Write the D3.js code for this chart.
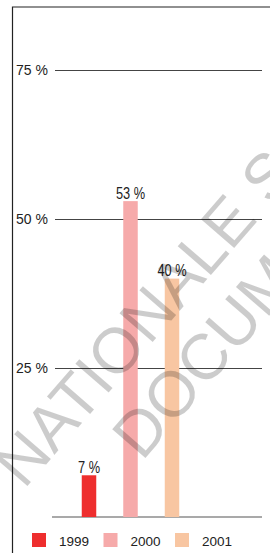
<!DOCTYPE html>
<html>
<head>
<meta charset="utf-8">
<script src="https://cdn.jsdelivr.net/npm/d3@7"></script>
<style>
  body { margin: 0; background: #fff; }
  svg { display: block; font-family: "Liberation Sans", Arial, sans-serif; }
</style>
</head>
<body>
<div id="chart"></div>
<script>
// data
const years = ["1999", "2000", "2001"];
const shares = [7, 53, 40];           // % per year
const yTicks = [25, 50, 75];
const colors = ["#ee2e2e", "#f6aaaa", "#f8c6a2"];
const watermark = ["NATIONALE S", "DOCUMENT"];

const width = 270, height = 553;

const svg = d3.select("#chart").append("svg")
  .attr("width", width)
  .attr("height", height);

// scales
const y = d3.scaleLinear().domain([0, 75]).range([517, 70]);
const x = d3.scalePoint().domain(years).range([89, 172]);
const barW = 14.5;

// frame (top + left)
svg.append("path")
  .attr("d", "M12.5,553 V7 H270")
  .attr("fill", "none")
  .attr("stroke", "#222")
  .attr("stroke-width", 1.2);

// gridlines
const grid = svg.append("g")
  .attr("transform", "translate(0,0)")
  .call(d3.axisLeft(y).tickValues(yTicks).tickSize(-207).tickFormat(d => d + " %"))
  .attr("transform", "translate(55,0)");
grid.select(".domain").remove();
grid.selectAll(".tick line").attr("stroke", "#444").attr("stroke-width", 1);
grid.selectAll(".tick text")
  .attr("x", -7)
  .attr("font-size", 14)
  .attr("font-family", "Liberation Sans, Arial, sans-serif")
  .attr("fill", "#222");

// baseline
svg.append("line")
  .attr("x1", 52).attr("x2", 262)
  .attr("y1", y(0)).attr("y2", y(0))
  .attr("stroke", "#555")
  .attr("stroke-width", 1.2);

// bars
const data = years.map((d, i) => ({ year: d, value: shares[i], color: colors[i] }));

svg.selectAll("rect.bar")
  .data(data)
  .join("rect")
  .attr("class", "bar")
  .attr("x", d => x(d.year) - barW / 2)
  .attr("y", d => y(d.value))
  .attr("width", barW)
  .attr("height", d => y(0) - y(d.value))
  .attr("fill", d => d.color);

// value labels (narrow)
svg.selectAll("text.val")
  .data(data)
  .join("text")
  .attr("class", "val")
  .attr("x", d => x(d.year))
  .attr("y", d => y(d.value) - 2.5)
  .attr("text-anchor", "middle")
  .attr("font-size", 16)
  .attr("fill", "#222")
  .text(d => d.value + " %")
  .each(function() {
    const w = this.getComputedTextLength();
    d3.select(this).attr("textLength", w * 0.8).attr("lengthAdjust", "spacingAndGlyphs");
  });

// legend
const legX = d3.scalePoint().domain(years).range([32, 175]);
const leg = svg.selectAll("g.leg")
  .data(data)
  .join("g")
  .attr("class", "leg")
  .attr("transform", d => `translate(${legX(d.year)},533)`);
leg.append("rect")
  .attr("width", 14).attr("height", 14)
  .attr("fill", d => d.color);
leg.append("text")
  .attr("x", 27)
  .attr("y", 12.5)
  .attr("font-size", 13.5)
  .attr("fill", "#222")
  .text(d => d.year);

// watermark
const wm = svg.append("g").attr("pointer-events", "none");
const wmPos = [[24, 490], [142, 462]];
wm.selectAll("text")
  .data(watermark)
  .join("text")
  .attr("transform", (d, i) => `translate(${wmPos[i][0]},${wmPos[i][1]}) rotate(-49)`)
  .attr("font-size", 64)
  .attr("fill", "#000")
  .attr("fill-opacity", 0.2)
  .text(d => d);
</script>
</body>
</html>
